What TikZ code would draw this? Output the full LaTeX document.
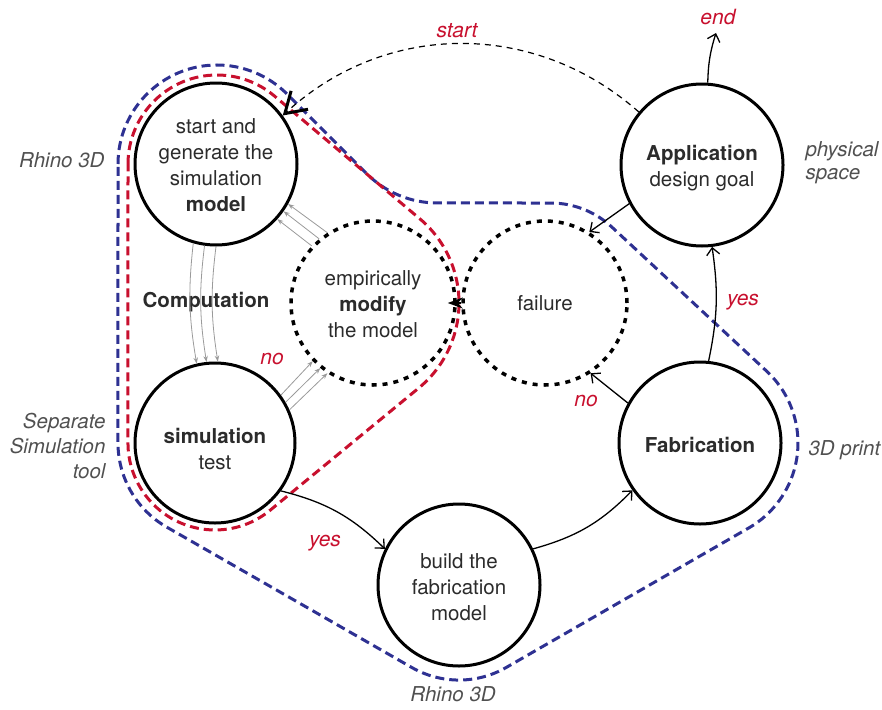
\documentclass[tikz,border=0pt]{standalone}
\usepackage{fontspec}
\setmainfont{TeX Gyre Heros}
\usetikzlibrary{arrows.meta}
\definecolor{txt}{HTML}{2B2B2B}
\definecolor{lbl}{HTML}{505050}
\definecolor{accent}{HTML}{C8102E}
\definecolor{zone}{HTML}{2E3192}
\definecolor{ray}{HTML}{9A9A9A}
% centred lines of a stage, set a little below the circle centre
\newcommand\stagetext[2]{\raisebox{-#1}[\height][\depth]{\begin{tabular}{@{}c@{}}#2\end{tabular}}}
\begin{document}
\begin{tikzpicture}[x=1pt,y=1pt,
  every node/.style={text=txt, font=\fontsize{20.5}{26}\selectfont},
  stage/.style={circle, draw=black, line width=3pt, minimum size=162pt, inner sep=0pt},
  open stage/.style={stage, dash pattern=on 5pt off 6pt, line width=3.5pt},
  link/.style={line width=1.3pt, -{Straight Barb[length=7pt,width=13pt,line width=1.3pt]}},
  grayray/.style={draw=ray, line width=0.8pt, -{Stealth[length=6pt,width=4.5pt]}},
  side/.style={text=lbl, font=\fontsize{20.5}{25}\selectfont\itshape},
  verdict/.style={text=accent, font=\fontsize{21}{25}\selectfont\itshape},
  zoneline/.style={line width=3pt, dash pattern=on 9pt off 5pt},
]
\useasboundingbox (0,0) rectangle (882,-709);

% tool zones
\draw[zoneline, draw=zone] (118,-164) arc[start angle=180,end angle=45,radius=99]
  -- (366.7,-173.7) arc[start angle=-135,end angle=-90,radius=100]
  -- (550.6,-203) arc[start angle=90,end angle=47,radius=90]
  -- (766.8,-371.3) arc[start angle=47,end angle=-59.5,radius=98]
  -- (507.2,-666.9) arc[start angle=-59.5,end angle=-120.2,radius=95]
  -- (166.2,-526.8) arc[start angle=-120.2,end angle=-180,radius=97]
  -- cycle;
\draw[zoneline, draw=accent] (128,-164) arc[start angle=180,end angle=50,radius=89]
  -- (419.7,-218.7) arc[start angle=50,end angle=-50.5,radius=110]
  -- (270.3,-510.1) arc[start angle=-50.5,end angle=-180,radius=87]
  -- cycle;

% stages
\node[stage] (A) at (216,-164) {\stagetext{3pt}{start and\\generate the\\simulation\\\textbf{model}}};
\node[stage, minimum size=160pt] (S) at (215,-443) {\stagetext{8pt}{\textbf{simulation}\\test}};
\node[open stage, minimum size=164pt] (M) at (373,-303) {\stagetext{3pt}{empirically\\\textbf{modify}\\the model}};
\node[open stage, minimum size=164pt] (F) at (545,-303) {failure};
\node[stage] (P) at (702,-165) {\stagetext{3pt}{\textbf{Application}\\design goal}};
\node[stage] (B) at (700,-443) {\stagetext{4pt}{\textbf{Fabrication}}};
\node[stage] (D) at (459,-585) {\stagetext{4pt}{build the\\fabrication\\model}};

% side labels
\node[side, anchor=east] (l1) at (108,-160) {Rhino 3D};
\node[side, align=left, anchor=west, font=\fontsize{20.5}{23}\selectfont\itshape] (l2) at (802,-163) {physical\\space};
\node[side, align=right, anchor=east] (l3) at (109,-446) {Separate\\Simulation\\tool};
\node[side, anchor=west] (l4) at (805,-450) {3D print};
\node[side] (l5) at (453,-694) {Rhino 3D};
\node[font=\fontsize{20.5}{26}\selectfont\bfseries] (comp) at (206,-302) {Computation};

% decisions
\node[verdict] (vstart) at (457,-31) {start};
\node[verdict] (vend) at (718,-17) {end};
\node[verdict] (vno1) at (272,-359) {no};
\node[verdict] (vyes1) at (325,-543) {yes};
\node[verdict] (vyes2) at (743,-302) {yes};
\node[verdict] (vno2) at (586,-401) {no};

% connectors
\draw[line width=1.2pt, dash pattern=on 6pt off 5pt,
  -{Straight Barb[length=20pt,width=25pt,line width=3pt]}] (P.140) to[bend right=42] (A.36);
\coordinate (fin) at (716,-33);
\draw[link] (P.86) to[bend left=8] (fin);
\draw[link] (P.208) -- (F.58);
\draw[link] (B.84) to[bend right=10] (P.277);
\draw[link] (B.151) -- (F.303);
\draw[link] (S.-36) to[bend left=15] (D.154);
\draw[link] (D.26) to[bend right=15] (B.215);
\draw[line width=1.5pt, -{Stealth[length=15pt,width=11pt]}, shorten >=-9pt] (F.west) -- (M.east);

% computation loop
\foreach \a/\b in {254/103, 262/96, 270/88} \draw[grayray] (A.\a) to[bend right=8] (S.\b);
\foreach \a/\b in {123/-29, 130/-35, 137/-42} \draw[grayray] (M.\a) -- (A.\b);
\foreach \a/\b in {36/224, 30/231, 24/237} \draw[grayray] (S.\a) -- (M.\b);
\end{tikzpicture}
\end{document}
